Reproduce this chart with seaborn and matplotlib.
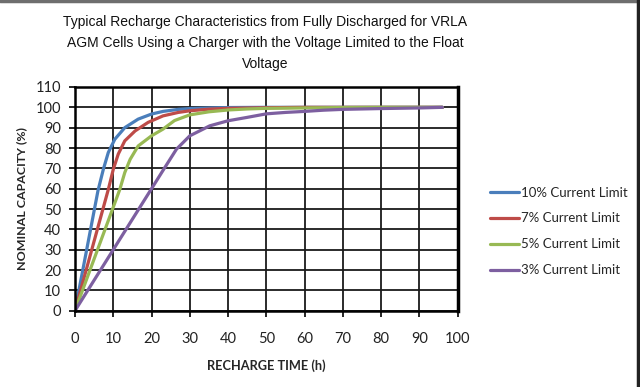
import matplotlib
matplotlib.use("Agg")
import matplotlib.pyplot as plt
import seaborn as sns
import pandas as pd
from matplotlib.lines import Line2D
from matplotlib import font_manager

# ---- data ----
series_names = ["10% Current Limit", "7% Current Limit", "5% Current Limit", "3% Current Limit"]

t_10 = [0, 6, 7.4, 8.7, 10.4, 13, 16.5, 20, 23, 27, 30, 35, 40, 50, 60, 70, 80, 90, 96]
c_10 = [0, 59, 69.5, 77.8, 84.3, 90, 94.2, 96.7, 98, 99, 99.4, 99.7, 99.9, 100, 100, 100, 100, 100, 100]

t_7 = [0, 8.7, 10, 11.3, 13, 15.7, 19.1, 23, 27, 30, 35, 40, 50, 60, 70, 80, 90, 96]
c_7 = [0, 59.6, 69.5, 77, 83.5, 88.4, 92.6, 95.8, 97.5, 98.3, 99.1, 99.5, 99.8, 100, 100, 100, 100, 100]

t_5 = [0, 11.7, 13, 14.4, 16.5, 20, 23, 26, 30, 35, 40, 45, 50, 60, 70, 80, 90, 96]
c_5 = [0, 59.6, 67.9, 74.4, 81, 86, 89.3, 93.5, 96.3, 97.8, 98.7, 99.2, 99.5, 99.7, 99.9, 100, 100, 100]

t_3 = [0, 10, 20, 23, 26.5, 30, 35.2, 40, 44.8, 50, 55, 60, 65, 70, 80, 90, 96]
c_3 = [0, 30, 60, 69, 79.4, 86, 90.9, 93.4, 95, 96.8, 97.5, 98, 98.6, 99, 99.4, 99.7, 100]

x_ticks = list(range(0, 101, 10))
y_ticks = list(range(0, 111, 10))

colors = ["#4A7EBB", "#BE4B48", "#98B954", "#7D5FA0"]

frames = []
for name, t, c in zip(series_names, [t_10, t_7, t_5, t_3], [c_10, c_7, c_5, c_3]):
    frames.append(pd.DataFrame({"time": t, "capacity": c, "series": name}))
df = pd.concat(frames, ignore_index=True)

sns.set_theme(style="white")
plt.rcParams["font.family"] = ["Lato", "DejaVu Sans"]

available = {f.name for f in font_manager.fontManager.ttflist}
if "Liberation Sans Narrow" in available:
    title_family, title_size = ["Liberation Sans Narrow", "DejaVu Sans"], 12.3
else:
    title_family, title_size = ["Liberation Sans", "DejaVu Sans"], 10.0

fig = plt.figure(figsize=(6.4, 3.87), dpi=100)
ax = fig.add_axes([0.1172, 0.1972, 0.5980, 0.5780])

sns.lineplot(data=df, x="time", y="capacity", hue="series", hue_order=series_names,
             palette=colors, linewidth=2.3, ax=ax, legend=False, sort=False,
             estimator=None)

ax.set_xlim(0, 100)
ax.set_ylim(0, 110)
ax.set_xticks(x_ticks)
ax.set_yticks(y_ticks)
ax.set_xticklabels([str(v) for v in x_ticks], fontsize=10.5, color="#222222")
ax.set_yticklabels([str(v) for v in y_ticks], fontsize=10.5, color="#222222")
ax.tick_params(axis="x", which="major", length=4, width=1.2, color="black",
               direction="out", bottom=True, pad=11)
ax.tick_params(axis="y", which="major", length=4, width=1.2, color="black",
               direction="out", left=True, pad=6)
ax.grid(True, color="#1a1a1a", linewidth=1.3)
ax.set_axisbelow(True)
for side in ["left", "bottom", "top"]:
    ax.spines[side].set_color("black")
    ax.spines[side].set_linewidth(1.8)
ax.spines["right"].set_color("black")
ax.spines["right"].set_linewidth(2.5)

ax.set_xlabel("RECHARGE TIME (h)", fontsize=9.2, fontweight="bold", labelpad=10)
ax.set_ylabel("NOMINAL CAPACITY (%)", fontsize=8.9, fontweight="bold", labelpad=6)

fig.text(0.414, 0.889,
         "Typical Recharge Characteristics from Fully Discharged for VRLA\n"
         "AGM Cells Using a Charger with the Voltage Limited to the Float\n"
         "Voltage",
         ha="center", va="center", fontsize=title_size, family=title_family,
         linespacing=1.62, color="#111111")

handles = [Line2D([0], [0], color=col, linewidth=2.3) for col in colors]
fig.legend(handles, series_names, loc="center left", bbox_to_anchor=(0.747, 0.402),
           frameon=False, fontsize=9.5, handlelength=2.2, handletextpad=0.15,
           labelspacing=1.05)

# outer frame of the picture
fig.add_artist(Line2D([0, 1], [0.997, 0.997], transform=fig.transFigure,
                      color="#6e6e6e", linewidth=2.5))
fig.add_artist(Line2D([0.9965, 0.9965], [0, 1], transform=fig.transFigure,
                      color="#222222", linewidth=2.5))

fig.savefig("out.png", dpi=100, facecolor="white")
